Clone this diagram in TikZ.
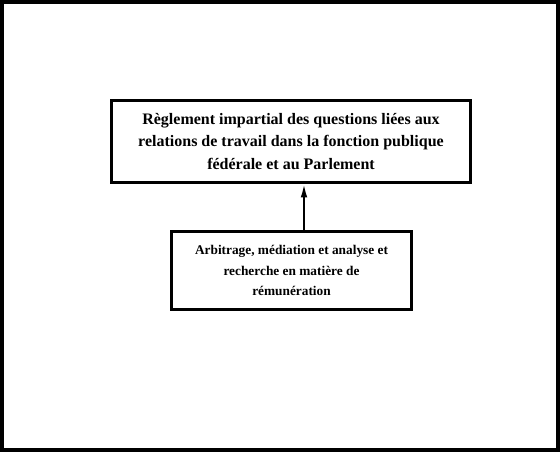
\documentclass[tikz,border=0pt]{standalone}
\usepackage{fontspec}
\setmainfont{Liberation Serif}
\usetikzlibrary{arrows.meta}

\tikzset{
    boxtop/.style={draw, line width=2.25pt, align=center, inner sep=0pt,
        minimum width=269.25pt, minimum height=61.5pt,
        font=\bfseries\fontsize{12}{16.8}\selectfont},
    boxbottom/.style={draw, line width=2.25pt, align=center, inner sep=0pt,
        minimum width=180pt, minimum height=58.5pt,
        font=\bfseries\fontsize{10}{15.4}\selectfont},
}

\begin{document}
\begin{tikzpicture}[x=0.75pt, y=-0.75pt]
    \useasboundingbox (0, 0) rectangle (560, 452);
    \draw[line width=3pt] (2, 2) rectangle (558, 450);
    \node[boxtop] (reglement) at (291, 141.5) {R\`eglement impartial des questions li\'ees aux\\relations de travail dans la fonction publique\\f\'ed\'erale et au Parlement};
    \node[boxbottom] (arbitrage) at (291.5, 270.5) {Arbitrage, m\'ediation et analyse et\\recherche en mati\`ere de\\r\'emun\'eration};
    \draw[line width=1.5pt, -{Latex[length=10pt, width=5pt]}] (arbitrage.north -| 304, 0) -- (reglement.south -| 304, 0);
\end{tikzpicture}
\end{document}
